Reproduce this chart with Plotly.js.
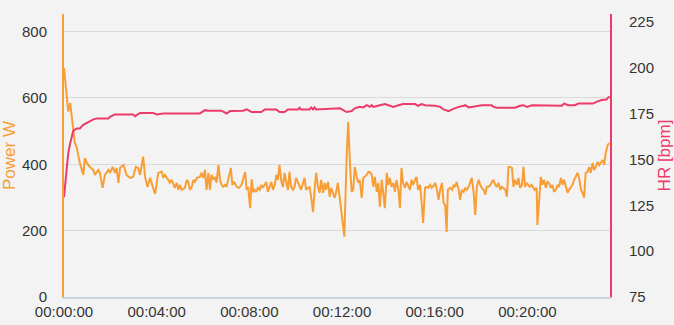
<!DOCTYPE html>
<html>
<head>
<meta charset="utf-8">
<script src="https://cdn.plot.ly/plotly-3.0.1.min.js"></script>
<style>html,body{margin:0;padding:0;background:#f3f3f3;}#chart{width:674px;height:325px;}</style>
</head>
<body>
<div id="chart"></div>
<script>
// Power samples: time [s] and watts
const powerTime = [0,7,11,16,24,28,33,37,41,50,54,59,67,76,80,89,93,100,106,115,119,126,132,136,141,145,154,162,171,179,186,192,197,205,210,216,223,230,236,244,253,257,261,270,274,279,283,287,292,296,300,305,313,318,322,326,331,335,339,344,352,356,361,365,369,374,378,382,387,391,395,400,404,408,412,417,421,425,432,436,441,447,453,460,464,469,473,477,482,486,490,494,498,502,507,511,515,520,524,528,533,537,541,546,550,554,558,563,567,571,576,580,584,588,593,597,601,606,610,614,619,623,627,632,636,640,645,649,653,658,662,666,671,675,679,684,688,692,696,701,705,709,714,718,723,726,732,736,741,745,749,753,758,762,766,771,775,779,784,788,792,797,801,805,810,814,818,823,827,831,836,840,844,848,853,857,861,866,870,874,878,883,887,891,896,900,904,909,913,917,922,926,930,935,939,943,948,952,957,961,966,970,974,979,983,987,991,994,1000,1005,1009,1013,1017,1022,1026,1030,1035,1039,1043,1048,1052,1056,1061,1065,1069,1074,1078,1082,1087,1091,1095,1100,1104,1108,1112,1117,1121,1125,1130,1134,1138,1143,1147,1151,1155,1160,1164,1168,1173,1177,1181,1186,1190,1194,1198,1202,1206,1211,1215,1219,1224,1226,1231,1235,1239,1243,1248,1252,1256,1261,1265,1269,1274,1278,1282,1287,1291,1295,1300,1304,1308,1313,1317,1321,1326,1330,1334,1339,1343,1347,1351,1356,1360,1364,1369,1373,1377,1382,1386,1390,1395,1399,1403,1408,1412];
const powerW = [690,594,559,585,504,465,450,423,404,368,419,404,392,383,368,383,374,329,368,383,374,392,374,389,344,389,398,368,359,362,392,389,368,423,362,332,359,332,311,374,378,359,368,353,344,353,338,329,344,323,338,323,329,353,347,323,332,353,347,359,362,374,359,383,323,374,323,368,353,362,344,398,353,338,332,338,332,353,389,338,347,332,329,338,353,377,323,332,268,355,316,323,317,329,323,338,329,338,347,317,332,347,323,338,368,353,398,347,332,374,344,323,377,332,323,332,359,344,329,323,344,359,323,329,332,302,256,323,374,329,314,353,314,344,323,347,302,329,317,299,317,344,300,258,215,182,422,528,392,317,323,392,362,344,353,299,359,362,368,377,377,368,332,362,317,344,272,353,302,268,374,338,359,332,344,317,353,323,268,389,344,329,347,338,323,353,338,353,362,323,338,287,223,329,332,329,338,329,335,344,323,293,323,344,284,278,196,323,329,323,338,332,347,323,293,323,317,329,323,332,344,359,314,247,332,353,338,329,323,308,332,332,338,347,353,338,332,344,323,332,329,323,302,392,392,389,332,353,338,359,329,338,392,332,344,338,332,338,329,323,329,217,299,362,338,353,329,347,344,329,338,317,323,338,332,359,338,353,332,314,323,332,338,353,368,374,359,323,314,299,374,377,392,374,404,383,392,407,398,404,413,398,434,458,464];

// Heart-rate samples: time [s] and bpm
const hrTime = [0,7,11,16,20,24,33,41,50,59,67,76,85,115,119,132,179,184,197,231,240,257,352,365,374,408,421,430,464,473,482,485,511,520,550,558,571,580,606,610,614,636,640,645,649,653,715,732,745,753,766,775,784,792,797,801,818,831,840,853,866,878,909,917,926,935,961,974,983,996,1005,1022,1035,1039,1048,1082,1108,1112,1121,1168,1181,1190,1199,1212,1289,1295,1306,1323,1332,1370,1379,1392,1405,1409,1414];
const hrBpm = [129.5,144,153.5,159,163,165.7,167,167,169,170,171,172,172.5,172.5,173.4,174.7,174.7,173.7,175.5,175.5,174.7,175.2,175.2,177,176.7,176.7,175.2,176.5,176.7,177.5,176.5,176,176,177.4,177.4,176,176,177.4,177.4,178.3,177.4,177.4,178.5,177.4,178.5,177.4,178,176,176.5,178,178.8,178.5,179.7,178.8,179.7,178.8,179.7,180.3,179.7,178.8,179.7,180.3,180.3,179.4,180.3,179.7,179.4,178.8,177.4,176.5,177.4,178.8,179.4,179.7,178.5,179.7,179.7,178.8,178.3,178.3,179.4,179.7,178.8,179.7,179.4,180.6,179.7,179.7,180.6,180.6,181.5,182.5,182.8,183.9,184.3];

// Axis ticks
const xTickVals = [0,240,480,720,960,1200];
const xTickText = ["00:00:00","00:04:00","00:08:00","00:12:00","00:16:00","00:20:00"];
const powerTicks = [0,200,400,600,800];
const hrTicks = [75,100,125,150,175,200,225];

const ORANGE = "#f89e36";
const PINK = "#ec3b6a";
const tickFont = {family: "Liberation Sans, Arial, sans-serif", size: 15, color: "#333333"};

const traces = [
  {x: powerTime, y: powerW, type: "scatter", mode: "lines", name: "Power",
   line: {color: ORANGE, width: 2}, yaxis: "y", hoverinfo: "skip"},
  {x: hrTime, y: hrBpm, type: "scatter", mode: "lines", name: "HR",
   line: {color: PINK, width: 2}, yaxis: "y2", hoverinfo: "skip"}
];

const layout = {
  width: 674, height: 325,
  margin: {l: 64, r: 64, t: 14, b: 28},
  paper_bgcolor: "#f3f3f3", plot_bgcolor: "#f3f3f3",
  showlegend: false,
  font: tickFont,
  xaxis: {
    range: [0, 1414], tickvals: xTickVals, ticktext: xTickText,
    showgrid: false, zeroline: false, showline: true, linecolor: "#ccd5e4", linewidth: 1.5,
    ticks: "", tickfont: tickFont, fixedrange: true
  },
  yaxis: {
    range: [0, 853], tickvals: powerTicks, showgrid: true, gridcolor: "#dadada", gridwidth: 1,
    zeroline: false, showline: true, linecolor: ORANGE, linewidth: 2, ticks: "",
    ticklabelstandoff: 12, tickfont: tickFont,
    title: {text: "Power W", font: {family: "Liberation Sans, Arial, sans-serif", size: 17, color: ORANGE}, standoff: 10}
  },
  yaxis2: {
    range: [75, 229.5], tickvals: hrTicks, overlaying: "y", side: "right",
    showgrid: false, zeroline: false, showline: true, linecolor: PINK, linewidth: 2, ticks: "",
    ticklabelstandoff: 14, tickfont: tickFont,
    title: {text: "HR [bpm]", font: {family: "Liberation Sans, Arial, sans-serif", size: 17, color: PINK}, standoff: 10}
  }
};

Plotly.newPlot("chart", traces, layout, {displayModeBar: false, staticPlot: true});
</script>
</body>
</html>
